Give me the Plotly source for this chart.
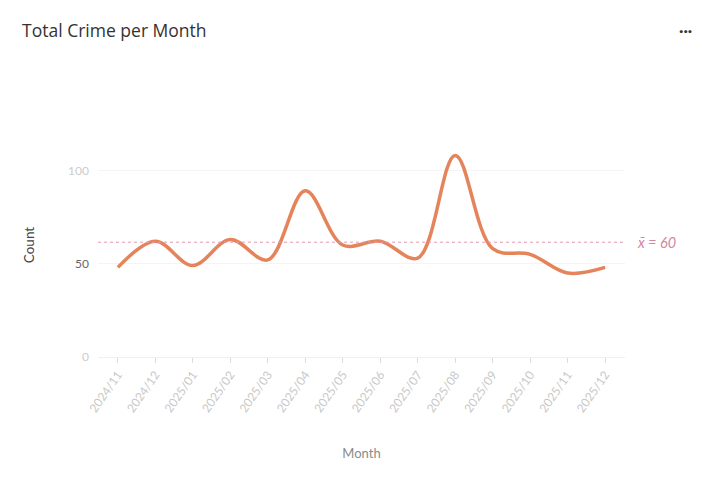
import plotly.graph_objects as go

months = ["2024/11", "2024/12", "2025/01", "2025/02", "2025/03", "2025/04", "2025/05",
          "2025/06", "2025/07", "2025/08", "2025/09", "2025/10", "2025/11", "2025/12"]
counts = [48, 62, 49, 63, 52, 89, 60, 62, 53, 108, 58, 55, 45, 48]
mean_value = 61.5
mean_label = "x̄ = 60"
y_ticks = [0, 50, 100]

fig = go.Figure()
fig.add_trace(go.Scatter(
    x=months, y=counts, mode="lines",
    line=dict(color="#E5845A", width=3.5, shape="spline", smoothing=1.0),
    hoverinfo="x+y", showlegend=False,
))

fig.add_hline(y=mean_value, line=dict(color="#E39AAE", width=1, dash="dot"))
fig.add_annotation(
    x=1.0, xref="paper", y=mean_value, yref="y", xanchor="left", xshift=10,
    text="<i>" + mean_label + "</i>", showarrow=False,
    font=dict(family="Lato, sans-serif", size=14.5, color="#D4869E"),
)

fig.update_layout(
    width=705, height=483,
    margin=dict(l=90, r=88, t=125, b=134),
    paper_bgcolor="white", plot_bgcolor="white",
    font=dict(family="Lato, sans-serif"),
    title=dict(text="Total Crime per Month", x=0.02, xanchor="left", y=0.952, yanchor="middle",
               font=dict(family="Open Sans, sans-serif", size=17.5, color="#333333")),
    xaxis=dict(
        title=dict(text="Month", font=dict(size=13, color="#8a8a8a"), standoff=34),
        range=[-0.53, 13.53], tickangle=-55,
        tickfont=dict(size=12, color="#c8c8c8"),
        ticks="outside", ticklen=5, tickcolor="#dddddd",
        showgrid=False, showline=True, linecolor="#f0f0f0", zeroline=False,
    ),
    yaxis=dict(
        title=dict(text="Count", font=dict(size=13.5, color="#444444"), standoff=30),
        range=[0, 120], tickvals=y_ticks,
        ticktext=["0", "<span style='color:#666666'>50</span>", "100"],
        tickfont=dict(size=12, color="#cccccc"), ticklabelstandoff=8,
        showgrid=True, gridcolor="#f4f4f4", zeroline=False, showline=False,
    ),
)

fig.add_annotation(x=1.131, xref="paper", y=1.46, yref="paper", yanchor="middle",
                   text="<b>···</b>", showarrow=False, font=dict(size=16, color="#333333"))

fig.write_html("out.html")
